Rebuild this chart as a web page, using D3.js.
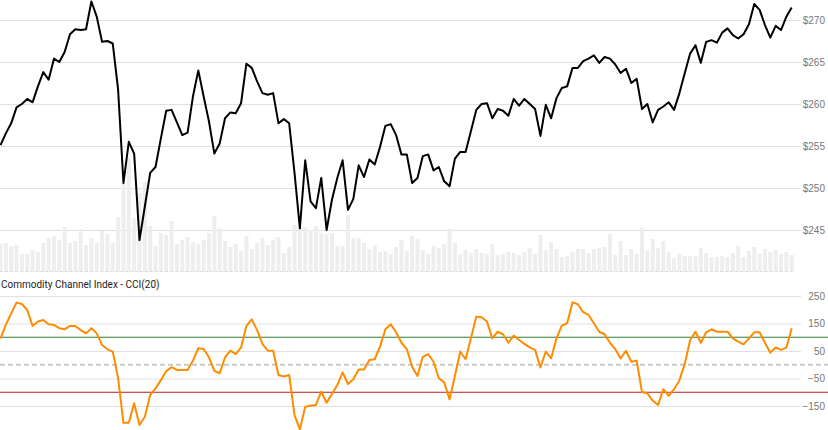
<!DOCTYPE html>
<html>
<head>
<meta charset="utf-8">
<script src="https://cdn.jsdelivr.net/npm/d3@7"></script>
<style>
  html, body { margin: 0; padding: 0; background: #fff; }
  svg { display: block; }
</style>
</head>
<body>
<svg id="chart" width="828" height="430"></svg>
<script>
const price = [255.1,256.5,257.7,259.6,260.0,260.6,260.2,262.1,263.8,262.9,
265.4,265.0,266.2,268.3,268.9,268.8,268.9,272.2,270.4,267.4,
267.5,267.2,261.7,250.6,255.5,254.1,243.8,247.8,251.8,252.5,
255.9,259.2,259.3,257.8,256.3,256.6,260.9,264.0,260.9,257.9,
254.1,255.3,258.3,259.0,258.9,260.1,264.8,264.3,262.7,261.3,
261.1,261.3,257.7,258.2,257.7,251.8,245.2,253.3,248.4,247.6,
251.2,245.0,248.6,251.2,253.3,247.4,248.7,252.7,251.3,253.4,
252.8,254.9,257.4,257.6,256.3,254.0,254.0,250.6,251.2,253.8,
254.0,252.1,252.5,250.8,250.2,253.5,254.3,254.3,256.8,259.3,
260.0,260.1,258.3,259.4,259.2,258.6,260.6,259.8,260.6,260.0,
259.4,256.2,259.9,258.3,260.7,261.9,262.1,264.3,264.3,265.1,
265.4,265.8,264.9,265.6,265.4,264.7,263.7,264.2,262.5,263.0,
259.4,260.0,257.8,259.3,259.7,260.2,259.3,261.3,263.7,266.0,
267.0,264.9,267.4,267.6,267.3,268.5,269.0,268.2,267.8,268.3,
269.5,271.9,271.2,269.4,267.9,269.3,268.8,270.4,271.5];

const volume = [28,29,26,27,18,18,22,20,29,34,
36,32,45,29,31,43,27,34,29,41,
38,29,55,89,114,54,79,90,46,26,
39,37,51,28,32,35,30,28,32,39,
56,44,31,25,28,21,36,23,29,34,
27,32,35,19,25,47,44,45,42,46,
39,38,39,26,26,57,34,34,29,23,
27,20,21,18,25,32,21,36,33,22,
18,26,24,28,43,29,18,22,19,23,
19,18,28,17,18,20,19,17,20,24,
18,37,22,30,23,15,16,20,23,23,
19,23,24,25,38,17,31,17,23,18,
44,22,33,24,31,20,14,18,16,16,
16,24,19,15,15,16,15,19,26,15,
21,25,18,23,20,22,18,20,17];

const cci = [96,145,187,226,221,199,141,157,163,147,
145,133,129,141,141,126,114,133,114,72,
56,48,-49,-211,-211,-140,-219,-189,-110,-86,
-56,-23,-9,-19,-19,-19,15,60,57,27,
-22,-31,27,51,39,63,141,165,126,76,
51,51,-37,-43,-37,-183,-235,-153,-149,-146,
-98,-138,-106,-74,-28,-70,-53,-17,-17,17,
20,66,129,147,118,80,57,-7,-41,29,
39,11,-49,-64,-126,-41,48,20,96,175,
173,157,96,120,111,80,106,90,76,63,
54,-10,48,23,96,142,151,227,220,191,
181,151,120,111,80,57,23,51,11,15,
-100,-104,-131,-146,-89,-113,-89,-56,3,90,
120,80,118,129,120,120,120,96,84,74,
96,118,118,80,44,63,54,62,133];

const priceTicks = [245,250,255,260,265,270];
const cciTicks = [250,150,50,-50,-150];
const cciTitle = "Commodity Channel Index - CCI(20)";
const overbought = 100, oversold = -100, midline = 0;

const svg = d3.select("#chart");
const W = 828, H = 430;
const gridRight = 801, labelX = 825;

const x = d3.scaleLinear().domain([0, price.length - 1]).range([0.5, 791.7]);
const yP = d3.scaleLinear().domain([245, 270]).range([230, 20]);
const yV = d3.scaleLinear().domain([0, 100]).range([272, 172]);
const yC = d3.scaleLinear().domain([-150, 250]).range([406, 296]);

svg.append("defs").append("clipPath").attr("id","cclip")
  .append("rect").attr("x",0).attr("y",273).attr("width",W).attr("height",H-273);

// price gridlines
const gridP = svg.append("g").attr("class","grid")
  .call(d3.axisRight(yP).tickValues(priceTicks).tickSize(gridRight).tickFormat(""));
gridP.select(".domain").remove();
gridP.selectAll("line").attr("stroke","#e0e0e0").attr("stroke-width",1);

// volume bars
svg.append("g").selectAll("rect").data(volume).join("rect")
  .attr("x",(d,i)=>x(i)-2)
  .attr("width",4)
  .attr("y",d=>yV(d))
  .attr("height",d=>yV(0)-yV(d))
  .attr("fill","#eeeeee");

// price line
svg.append("path").datum(price)
  .attr("d", d3.line().x((d,i)=>x(i)).y(d=>yP(d)))
  .attr("fill","none").attr("stroke","#000").attr("stroke-width",2)
  .attr("stroke-linejoin","round");

// price labels
const axP = svg.append("g").attr("transform",`translate(${labelX},0)`)
  .call(d3.axisLeft(yP).tickValues(priceTicks).tickSize(0).tickPadding(0).tickFormat(d=>"$"+d));
axP.select(".domain").remove();
axP.selectAll("text").attr("fill","#777").style("font-family","'Liberation Sans', Arial, sans-serif").style("font-size","10px");

// separator
svg.append("line").attr("x1",0).attr("x2",795).attr("y1",271.5).attr("y2",271.5)
  .attr("stroke","#dddddd").attr("stroke-width",1).attr("stroke-dasharray","3,2");

// CCI title
svg.append("text").attr("x",1).attr("y",288).text(cciTitle)
  .style("font-family","Roboto, sans-serif").style("font-size","10px").attr("fill","#222");

// cci gridlines
const gridC = svg.append("g")
  .call(d3.axisRight(yC).tickValues(cciTicks).tickSize(gridRight).tickFormat(""));
gridC.select(".domain").remove();
gridC.selectAll("line").attr("stroke","#e0e0e0").attr("stroke-width",1);

// reference lines
svg.append("line").attr("x1",0).attr("x2",W).attr("y1",yC(midline)).attr("y2",yC(midline))
  .attr("stroke","#c8c8c8").attr("stroke-width",2).attr("stroke-dasharray","5,3");
svg.append("line").attr("x1",0).attr("x2",W).attr("y1",yC(overbought)).attr("y2",yC(overbought))
  .attr("stroke","#2e7d32").attr("stroke-width",1.2);
svg.append("line").attr("x1",0).attr("x2",W).attr("y1",yC(oversold)).attr("y2",yC(oversold))
  .attr("stroke","#b71c1c").attr("stroke-width",1.2);

// cci line
svg.append("path").datum(cci).attr("clip-path","url(#cclip)")
  .attr("d", d3.line().x((d,i)=>x(i)).y(d=>yC(d)))
  .attr("fill","none").attr("stroke","#ff8c00").attr("stroke-width",2)
  .attr("stroke-linejoin","round");

// cci labels
const axC = svg.append("g").attr("transform",`translate(${labelX},0)`)
  .call(d3.axisLeft(yC).tickValues(cciTicks).tickSize(0).tickPadding(0));
axC.select(".domain").remove();
axC.selectAll("text").attr("fill","#777").style("font-family","'Liberation Sans', Arial, sans-serif").style("font-size","10px");
</script>
</body>
</html>
